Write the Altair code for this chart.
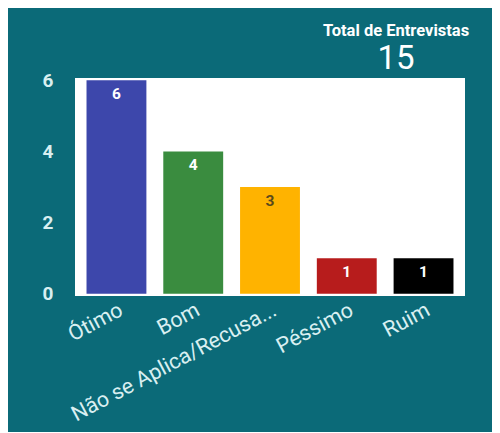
import altair as alt
import pandas as pd

categories = ["Ótimo", "Bom", "Não se Aplica/Recusa...", "Péssimo", "Ruim"]
values = [6, 4, 3, 1, 1]
bar_colors = ["#3d47ab", "#3a8c3f", "#ffb300", "#b71c1c", "#000000"]
label_colors = ["#ffffff", "#ffffff", "#5a4a1c", "#ffffff", "#ffffff"]
title_text = "Total de Entrevistas"
total = sum(values)

df = pd.DataFrame({"cat": categories, "value": values,
                   "bar_color": bar_colors, "label_color": label_colors})

FONT = "Roboto"
LIGHT = "#d9eff1"

x = alt.X("cat:N", sort=categories,
          scale=alt.Scale(paddingInner=0.22, paddingOuter=0.15),
          axis=alt.Axis(title=None, labelAngle=-28, labelFontSize=21.5,
                        labelColor=LIGHT, labelFont=FONT, labelPadding=3,
                        ticks=False, domain=False, labelAlign="right",
                        labelBaseline="top", labelLimit=400))
y = alt.Y("value:Q", scale=alt.Scale(domain=[-0.06, 6.06], nice=False, zero=False),
          axis=alt.Axis(title=None, values=[0, 2, 4, 6], labelFontSize=19,
                        labelFontWeight="bold", labelColor=LIGHT, labelFont=FONT,
                        labelPadding=22, ticks=False, domain=False, grid=False))

bars = alt.Chart(df).mark_bar().encode(
    x=x,
    y=y,
    y2=alt.datum(0),
    color=alt.Color("bar_color:N", scale=None),
)

labels = alt.Chart(df).mark_text(baseline="middle", dy=14, fontSize=15.5,
                                 fontWeight="bold", font=FONT).encode(
    x=alt.X("cat:N", sort=categories),
    y="value:Q",
    text="value:Q",
    color=alt.Color("label_color:N", scale=None),
)

tdf = pd.DataFrame({"t": [title_text], "n": [str(total)]})
title1 = alt.Chart(tdf).mark_text(fontSize=16.5, fontWeight="bold", font=FONT,
                                  color="#ffffff", align="center", baseline="middle").encode(
    x=alt.value(321), y=alt.value(-47), text="t:N")
title2 = alt.Chart(tdf).mark_text(fontSize=33, font=FONT, color="#ffffff",
                                  align="center", baseline="middle").encode(
    x=alt.value(321), y=alt.value(-19), text="n:N")

chart = alt.layer(bars, labels, title1, title2).properties(
    width=390, height=218,
    autosize=alt.AutoSizeParams(type="none"),
    padding={"left": 67, "top": 70, "right": 27, "bottom": 136},
    background="#0b6a78",
).configure_view(fill="white", stroke=None)

chart.save("out.html", embed_options={"renderer": "svg", "actions": False})
